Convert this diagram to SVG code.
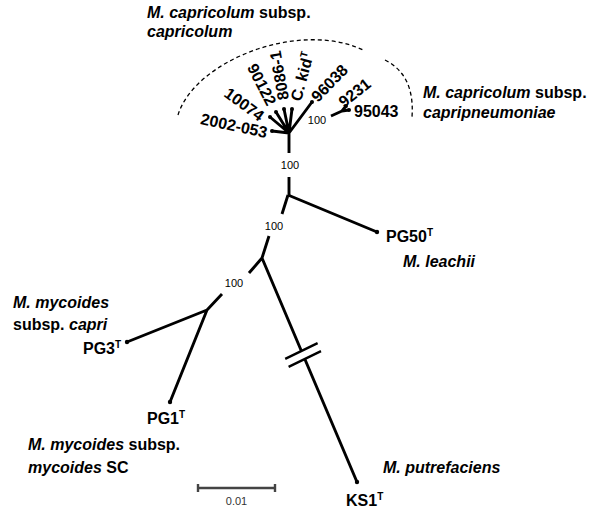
<svg xmlns="http://www.w3.org/2000/svg" width="600" height="515" viewBox="0 0 600 515">
<style>
.br{stroke:#000;stroke-width:2.9;fill:none}
.mk{stroke:#000;stroke-width:2.4;fill:none}
.lf{font-family:"Liberation Sans",Arial,sans-serif;font-weight:bold;font-size:16px;fill:#000}
.grp{font-family:"Liberation Sans",Arial,sans-serif;font-weight:bold;font-size:16px;fill:#000}
.it{font-style:italic}
.sup{font-size:10px}
.bs{font-family:"Liberation Sans",Arial,sans-serif;font-size:11px;fill:#000;text-anchor:middle}
.arc{stroke:#000;stroke-width:1.3;fill:none;stroke-dasharray:4 3}
.dot{fill:#000}
.sb{stroke:#444;stroke-width:2.4;fill:none}
</style>
<rect width="600" height="515" fill="#fff"/>
<g id="connectors">
<path class="br" d="M289,133 L272,131 M289,133 L270,117 M289,133 L276,112 M289,133 L284,109 M289,133 L292,109 M289,133 L312,102 M289,133 L289,153 M289,177 L289,195"/>
<path class="br" d="M331,116 L342,111 M342,111 L346,106 M342,111 L349,110"/>
<path class="br" d="M288,195 L377,232 M288,195 L282,214 M269,236 L262,258 M262,258 L249,273 M222,294 L207,310 M207,310 L127,342 M207,310 L170,402 M262,258 L301.4,351 M304.8,359 L357,482"/>
<path class="mk" d="M285.2,358.9 L317.6,343.1 M288.6,366.9 L321,351.1"/>
<g class="dot">
<circle cx="272" cy="131" r="2"/><circle cx="270" cy="117" r="2"/><circle cx="276" cy="112" r="2"/><circle cx="284" cy="109" r="2"/><circle cx="292" cy="109" r="2"/><circle cx="312" cy="102" r="2"/><circle cx="346" cy="106" r="2"/><circle cx="349" cy="110" r="2"/><circle cx="377" cy="232" r="2.2"/><circle cx="127" cy="342" r="2.2"/><circle cx="170" cy="402" r="2.2"/><circle cx="357" cy="482" r="2.2"/>
</g>
</g>
<g id="bootstrap">
<text class="bs" x="290" y="169">100</text>
<text class="bs" x="317" y="124">100</text>
<text class="bs" x="274" y="230">100</text>
<text class="bs" x="234" y="287">100</text>
</g>
<g id="clade-arcs">
<path class="arc" d="M178,115 C195,60 300,20 363,50"/>
<path class="arc" d="M385,60 Q415,75 412,117"/>
</g>
<g id="leaf-2002-053"><text class="lf" text-anchor="end" transform="translate(266,138) rotate(12)">2002-053</text></g>
<g id="leaf-10074"><text class="lf" text-anchor="end" transform="translate(259,122) rotate(36)">10074</text></g>
<g id="leaf-90122"><text class="lf" text-anchor="end" transform="translate(267,107) rotate(63)">90122</text></g>
<g id="leaf-8086-1"><text class="lf" transform="translate(289,99) rotate(-100)">8086-1</text></g>
<g id="leaf-ckid"><text class="lf" transform="translate(301,102) rotate(-75)">C. kid<tspan class="sup" dy="-6">T</tspan></text></g>
<g id="leaf-96038"><text class="lf" transform="translate(318,103) rotate(-46)">96038</text></g>
<g id="leaf-9231"><text class="lf" transform="translate(344,108) rotate(-38)">9231</text></g>
<g id="leaf-95043"><text class="lf" x="354" y="117">95043</text></g>
<g id="leaf-PG50"><text class="lf" x="386" y="242">PG50<tspan class="sup" dy="-6">T</tspan></text></g>
<g id="leaf-PG3"><text class="lf" x="83" y="354">PG3<tspan class="sup" dy="-6">T</tspan></text></g>
<g id="leaf-PG1"><text class="lf" x="147" y="424">PG1<tspan class="sup" dy="-6">T</tspan></text></g>
<g id="leaf-KS1"><text class="lf" x="346" y="506">KS1<tspan class="sup" dy="-6">T</tspan></text></g>
<g id="group-capricolum"><text class="grp" x="147" y="18"><tspan class="it">M. capricolum</tspan> subsp.</text><text class="grp it" x="147" y="37">capricolum</text></g>
<g id="group-capripneumoniae"><text class="grp" x="423" y="98"><tspan class="it">M. capricolum</tspan> subsp.</text><text class="grp it" x="423" y="118">capripneumoniae</text></g>
<g id="group-leachii"><text class="grp it" x="403" y="267">M. leachii</text></g>
<g id="group-capri"><text class="grp" x="13" y="308"><tspan class="it">M. mycoides</tspan></text><text class="grp" x="13" y="330">subsp. <tspan class="it">capri</tspan></text></g>
<g id="group-mycoides"><text class="grp" x="28" y="450"><tspan class="it">M. mycoides</tspan> subsp.</text><text class="grp" x="28" y="473"><tspan class="it">mycoides</tspan> SC</text></g>
<g id="group-putrefaciens"><text class="grp it" x="383" y="473">M. putrefaciens</text></g>
<g id="scale-bar">
<path class="sb" d="M198,488 L275,488 M198,484 L198,492 M275,484 L275,492"/>
<text class="bs" x="236.5" y="505" style="fill:#333">0.01</text>
</g>
</svg>
